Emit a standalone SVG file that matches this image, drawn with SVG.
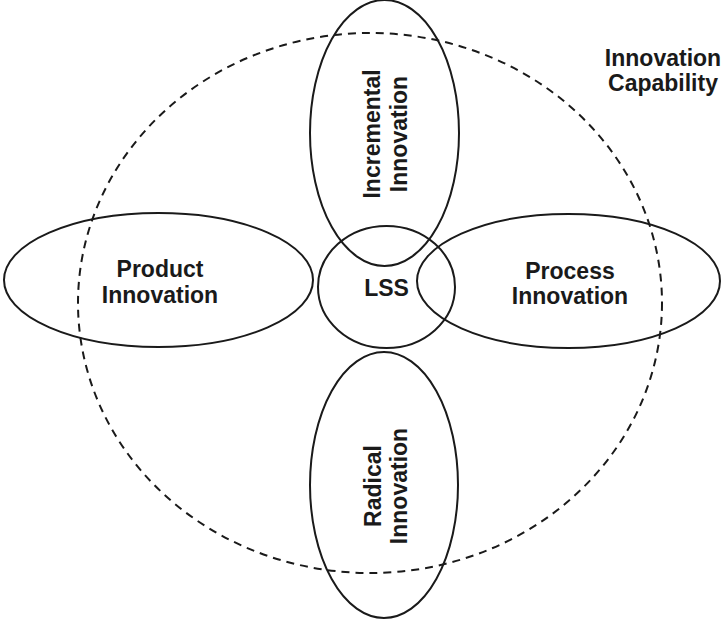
<svg xmlns="http://www.w3.org/2000/svg" width="724" height="621" viewBox="0 0 724 621">
<style>
.shape{fill:none;stroke:#1a1a1a;stroke-width:2}
.dash{fill:none;stroke:#1a1a1a;stroke-width:2;stroke-dasharray:8 6}
.lbl{font-family:"Liberation Sans",Arial,sans-serif;font-weight:bold;font-size:23px;fill:#1a1a1a;text-anchor:middle}
</style>
<rect width="724" height="621" fill="#ffffff"/>
<g id="capability">
<ellipse class="dash" cx="370" cy="303" rx="292" ry="270"/>
<text class="lbl" x="663" y="66">Innovation</text>
<text class="lbl" x="663" y="91">Capability</text>
</g>
<g id="incremental">
<ellipse class="shape" cx="384.5" cy="133" rx="74.5" ry="133"/>
<g transform="translate(380,134) rotate(-90)">
<text class="lbl" x="0" y="0">Incremental</text>
<text class="lbl" x="0" y="27">Innovation</text>
</g>
</g>
<g id="radical">
<ellipse class="shape" cx="384" cy="485" rx="74" ry="133"/>
<g transform="translate(381,486) rotate(-90)">
<text class="lbl" x="0" y="0">Radical</text>
<text class="lbl" x="0" y="26">Innovation</text>
</g>
</g>
<g id="product">
<ellipse class="shape" cx="158.5" cy="280" rx="154.5" ry="67"/>
<text class="lbl" x="160" y="277">Product</text>
<text class="lbl" x="160" y="303">Innovation</text>
</g>
<g id="process">
<ellipse class="shape" cx="568.5" cy="281" rx="151.5" ry="67"/>
<text class="lbl" x="570" y="279">Process</text>
<text class="lbl" x="570" y="304">Innovation</text>
</g>
<g id="lss">
<ellipse class="shape" cx="386.5" cy="287" rx="68.5" ry="61"/>
<text class="lbl" x="386.5" y="296">LSS</text>
</g>
<g id="connectors"></g>
</svg>
